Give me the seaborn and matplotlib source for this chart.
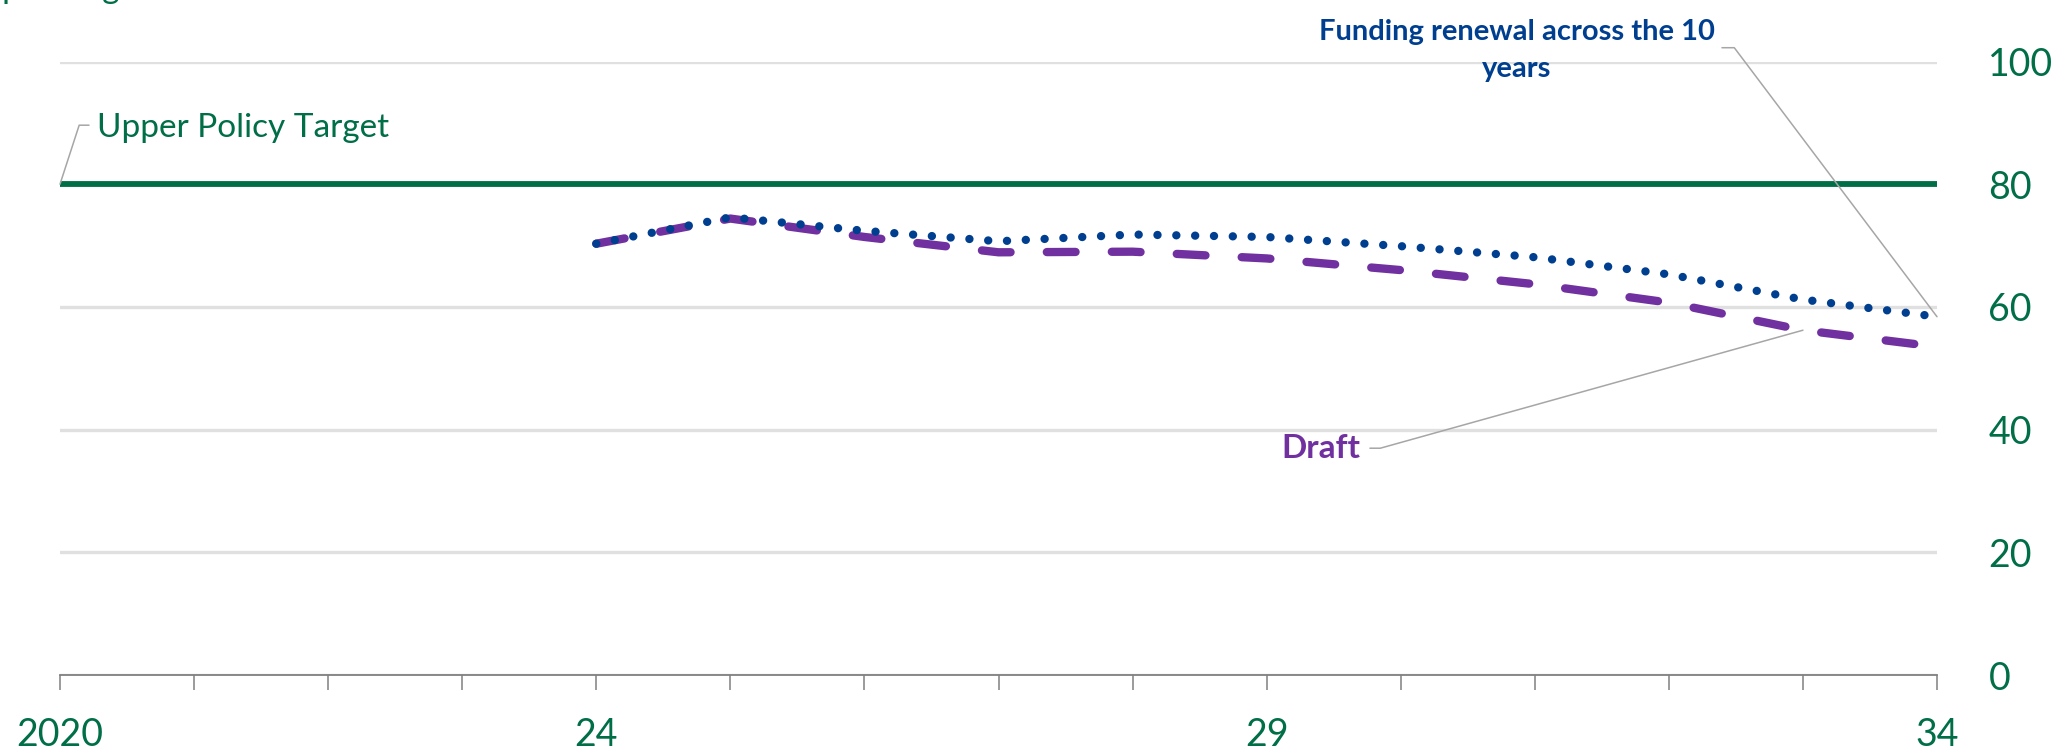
import numpy as np
import pandas as pd
import matplotlib
matplotlib.use("Agg")
import matplotlib.pyplot as plt
import seaborn as sns

# ---- data ----
years_axis = list(range(2020, 2035))
tick_labels = ["2020", "", "", "", "24", "", "", "", "", "29", "", "", "", "", "34"]
years = [2024, 2025, 2026, 2027, 2028, 2029, 2030, 2031, 2032, 2033, 2034]
funding = [70.3, 74.6, 72.4, 70.7, 71.8, 71.4, 69.9, 68.1, 65.3, 61.2, 58.4]
draft = [70.3, 74.4, 71.4, 68.9, 69.0, 67.9, 66.0, 63.7, 60.7, 56.2, 53.5]
target = 80
y_ticks = [0, 20, 40, 60, 80, 100]

GREEN = "#006E47"
BLUE = "#003F8F"
PURPLE = "#7030A0"
GRID = "#E0E0E0"
LEADER = "#A6A6A6"

sns.set_theme(style="white")
plt.rcParams["font.family"] = ["Lato", "DejaVu Sans"]

W, H = 2051, 755
fig = plt.figure(figsize=(W / 100, H / 100), dpi=100)
ax = fig.add_axes([60 / W, 1 - 675 / H, (1937 - 60) / W, (675 - 61.5) / H])

df = pd.DataFrame({"year": years + years,
                   "value": draft + funding,
                   "series": ["Draft"] * len(years) + ["Funding"] * len(years)})

sns.lineplot(data=df[df.series == "Draft"], x="year", y="value", ax=ax,
             color=PURPLE, lw=6, legend=False, clip_on=False, zorder=3)
ax.lines[-1].set_dashes((3.45, 4.35))
ax.lines[-1].set_dash_capstyle("round")
sns.lineplot(data=df[df.series == "Funding"], x="year", y="value", ax=ax,
             color=BLUE, lw=6, legend=False, clip_on=False, zorder=4)
ax.lines[-1].set_dashes((0.01, 2.25))
ax.lines[-1].set_dash_capstyle("round")

ax.axhline(target, color=GREEN, lw=4.2, zorder=2)

ax.set_xlim(2020, 2034)
ax.set_ylim(0, 100)
ax.set_xlabel("")
ax.set_ylabel("")

ax.set_xticks(years_axis)
ax.set_xticklabels(tick_labels)
ax.set_yticks(y_ticks)
ax.set_yticklabels([str(v) for v in y_ticks])

for s in ["top", "left", "right"]:
    ax.spines[s].set_visible(False)
ax.spines["bottom"].set_color("#808080")
ax.spines["bottom"].set_linewidth(1.3)

ax.tick_params(axis="x", direction="out", length=11, width=1.1, color="#808080",
               labelsize=27, labelcolor=GREEN, pad=19, bottom=True)
ax.tick_params(axis="y", left=False, right=False, labelleft=False, labelright=True,
               labelsize=27, labelcolor=GREEN, pad=31)
for lab in ax.get_yticklabels():
    lab.set_horizontalalignment("left")

ax.yaxis.grid(True, color=GRID, lw=2.4)
ax.xaxis.grid(False)
ax.set_axisbelow(True)

# ---- annotations ----
ann_kw = dict(xycoords="data", textcoords="offset pixels", annotation_clip=False)

# Upper Policy Target
ax.annotate("", xy=(2020, target), xytext=(29, 59),
            arrowprops=dict(arrowstyle="-", color=LEADER, lw=1.1, shrinkA=0, shrinkB=0,
                            connectionstyle="angle,angleA=0,angleB=72,rad=0"), **ann_kw)
ax.annotate("Upper Policy Target", xy=(2020, target), xytext=(37, 56),
            ha="left", va="center", fontsize=24, color=GREEN, **ann_kw)

# Funding renewal
ax.annotate("", xy=(years[-1], funding[-1]), xytext=(-215, 269),
            arrowprops=dict(arrowstyle="-", color=LEADER, lw=1.1, shrinkA=0, shrinkB=0,
                            connectionstyle="angle,angleA=0,angleB=127,rad=0"), **ann_kw)
ax.annotate("Funding renewal across the 10\nyears", xy=(years[-1], funding[-1]),
            xytext=(-420, 266), ha="center", va="center", multialignment="center",
            fontsize=21, fontweight="bold", color=BLUE, linespacing=1.5, **ann_kw)

# Draft
ax.annotate("", xy=(years[-2], draft[-2]), xytext=(-433, -118),
            arrowprops=dict(arrowstyle="-", color=LEADER, lw=1.1, shrinkA=0, shrinkB=0,
                            connectionstyle="angle,angleA=0,angleB=15.6,rad=0"), **ann_kw)
ax.annotate("Draft", xy=(years[-2], draft[-2]), xytext=(-443, -118),
            ha="right", va="center", fontsize=24, fontweight="bold", color=PURPLE, **ann_kw)

# clipped unit label at the very top
fig.text(-15 / W, 1 + 2 / H, "Spending", ha="left", va="baseline",
         fontsize=24, color=GREEN)

fig.savefig("out.png", dpi=100)
